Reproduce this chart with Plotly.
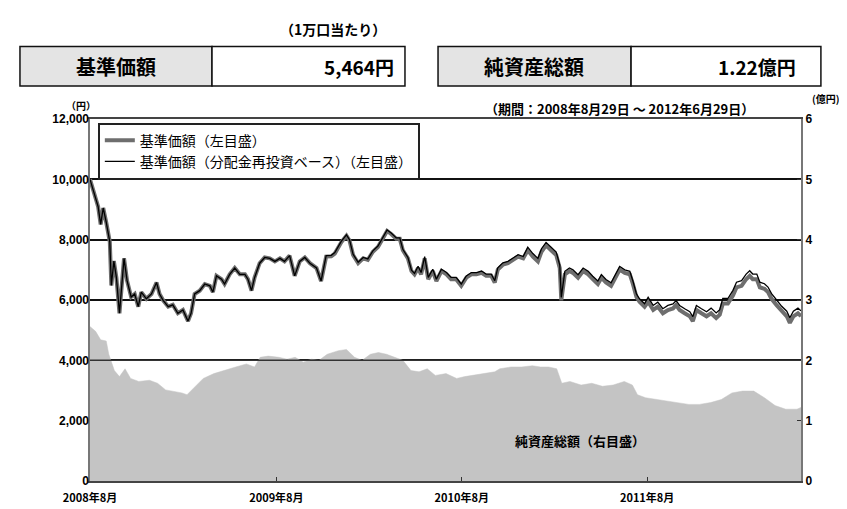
import plotly.graph_objects as go

# 基準価額 / 分配金再投資ベース (円)
nav_dates = [
    "2008-08-29", "2008-09-04", "2008-09-14", "2008-09-19", "2008-09-24", "2008-09-30", "2008-10-07",
    "2008-10-10", "2008-10-15", "2008-10-20", "2008-10-26", "2008-11-04", "2008-11-10", "2008-11-18",
    "2008-11-25", "2008-12-02", "2008-12-08", "2008-12-18", "2008-12-28",
    "2009-01-07", "2009-01-13", "2009-01-20", "2009-01-30", "2009-02-08", "2009-02-18", "2009-02-28",
    "2009-03-10", "2009-03-16", "2009-03-23", "2009-04-02", "2009-04-12", "2009-04-22", "2009-04-28",
    "2009-05-05", "2009-05-15", "2009-05-21", "2009-05-31", "2009-06-10", "2009-06-20", "2009-06-30",
    "2009-07-06", "2009-07-13", "2009-07-19", "2009-07-29", "2009-08-08", "2009-08-18", "2009-08-28",
    "2009-09-07", "2009-09-16", "2009-09-26", "2009-10-06", "2009-10-16", "2009-10-26", "2009-11-05",
    "2009-11-18", "2009-11-27", "2009-12-07", "2009-12-17", "2009-12-24",
    "2010-01-06", "2010-01-16", "2010-01-22", "2010-01-29", "2010-02-08", "2010-02-18", "2010-02-27",
    "2010-03-09", "2010-03-19", "2010-03-29", "2010-04-06", "2010-04-14", "2010-04-24", "2010-05-01",
    "2010-05-07", "2010-05-17", "2010-05-24", "2010-05-30", "2010-06-06", "2010-06-12", "2010-06-19",
    "2010-06-26", "2010-07-05", "2010-07-12", "2010-07-22", "2010-08-01", "2010-08-10", "2010-08-20",
    "2010-08-30", "2010-09-09", "2010-09-19", "2010-09-29", "2010-10-09", "2010-10-18", "2010-10-28",
    "2010-11-04", "2010-11-10", "2010-11-20", "2010-11-30", "2010-12-10", "2010-12-20", "2010-12-30",
    "2011-01-08", "2011-01-18", "2011-01-28", "2011-02-04", "2011-02-13", "2011-02-23", "2011-03-05",
    "2011-03-12", "2011-03-15", "2011-03-22", "2011-03-31", "2011-04-07", "2011-04-17", "2011-04-27",
    "2011-05-07", "2011-05-16", "2011-05-26", "2011-06-02", "2011-06-11", "2011-06-21", "2011-07-01",
    "2011-07-08", "2011-07-18", "2011-07-28", "2011-08-03", "2011-08-10", "2011-08-16", "2011-08-26",
    "2011-09-02", "2011-09-12", "2011-09-21", "2011-10-01", "2011-10-11", "2011-10-21", "2011-10-27",
    "2011-11-03", "2011-11-13", "2011-11-23", "2011-11-29", "2011-12-06", "2011-12-16", "2011-12-26",
    "2012-01-04", "2012-01-14", "2012-01-21", "2012-01-27", "2012-02-06", "2012-02-16", "2012-02-23",
    "2012-03-04", "2012-03-13", "2012-03-20", "2012-03-26", "2012-04-03", "2012-04-09", "2012-04-18",
    "2012-04-25", "2012-05-02", "2012-05-12", "2012-05-22", "2012-06-01", "2012-06-07", "2012-06-14",
    "2012-06-23", "2012-06-29",
]

nav = [
    10000, 9630, 9094, 8506, 9050, 8570, 7930, 6480, 7290, 6740, 5560, 7380, 6640, 6100, 6200, 5780,
    6260, 6040, 6200,
    6580, 6200, 5990, 5780, 5840, 5560, 5670, 5300, 5560, 6200, 6310, 6530, 6470, 6260, 6800, 6690,
    6530, 6850, 7060, 6850, 6850, 6690, 6310, 6740, 7220, 7410, 7380, 7280, 7380, 7280, 7470, 6800,
    7280, 7410, 7220, 7060, 6630, 7440, 7450, 7540,
    7920, 8130, 7970, 7490, 7220, 7380, 7330, 7600, 7760, 8080, 8290, 8190, 8030, 8030, 7650, 7380,
    6960, 6850, 7060, 6850, 7380, 6690, 6960, 6630, 6960, 6850, 6690, 6690, 6470, 6740, 6850, 6850,
    6900, 6800, 6800, 6580, 7010, 7170, 7220, 7330, 7440, 7380,
    7650, 7440, 7280, 7600, 7810, 7650, 7490, 7060, 5990, 6850, 6960, 6900, 6740, 6960, 6850, 6690,
    6530, 6740, 6580, 6470, 6800, 7010, 6900, 6850, 6530, 6100, 5940, 5780, 5940, 5670, 5780, 5560,
    5670, 5720, 5830, 5670, 5560, 5460, 5300, 5670, 5560, 5460,
    5560, 5400, 5510, 5880, 5880, 6150, 6420, 6470, 6690, 6800, 6690, 6690, 6420, 6370, 6260, 6040,
    5830, 5620, 5460, 5240, 5460, 5560, 5464,
]

nav_reinvest = [
    10000, 9630, 9094, 8506, 9050, 8570, 7930, 6480, 7290, 6740, 5560, 7380, 6640, 6100, 6200, 5780,
    6260, 6040, 6200,
    6580, 6200, 5990, 5780, 5840, 5560, 5670, 5300, 5560, 6200, 6310, 6530, 6470, 6260, 6800, 6690,
    6530, 6850, 7060, 6850, 6850, 6690, 6310, 6740, 7220, 7410, 7380, 7280, 7380, 7280, 7470, 6800,
    7280, 7410, 7220, 7060, 6630, 7470, 7480, 7570,
    7950, 8160, 8000, 7520, 7250, 7410, 7360, 7630, 7790, 8110, 8320, 8220, 8060, 8060, 7680, 7410,
    6990, 6880, 7120, 6910, 7440, 6750, 7020, 6690, 7020, 6910, 6750, 6750, 6530, 6800, 6910, 6910,
    6960, 6860, 6860, 6640, 7070, 7230, 7280, 7390, 7500, 7440,
    7750, 7540, 7380, 7700, 7910, 7750, 7590, 7160, 6090, 6950, 7060, 7000, 6840, 7060, 6950, 6790,
    6630, 6840, 6680, 6570, 6900, 7110, 7000, 6950, 6630, 6200, 6040, 5880, 6090, 5820, 5930, 5710,
    5820, 5870, 5980, 5820, 5710, 5610, 5450, 5820, 5710, 5610,
    5730, 5570, 5680, 6050, 6050, 6320, 6590, 6640, 6860, 6970, 6860, 6860, 6590, 6540, 6430, 6210,
    6000, 5790, 5630, 5410, 5630, 5730, 5640,
]

# 純資産総額 (億円)
asset_dates = [
    "2008-08-29", "2008-09-09", "2008-09-19", "2008-09-30", "2008-10-05", "2008-10-16", "2008-10-26",
    "2008-11-06", "2008-11-17", "2008-12-03", "2008-12-24", "2009-01-09", "2009-01-25", "2009-02-10",
    "2009-02-26", "2009-03-08", "2009-03-24", "2009-04-09", "2009-04-30", "2009-05-22", "2009-06-12",
    "2009-07-03", "2009-07-19", "2009-07-30", "2009-08-15", "2009-09-05", "2009-09-21", "2009-10-07",
    "2009-10-23", "2009-11-08", "2009-11-23", "2009-12-09", "2009-12-31", "2010-01-16", "2010-02-01",
    "2010-02-16", "2010-03-04", "2010-03-20", "2010-04-05", "2010-04-21", "2010-05-07", "2010-05-23",
    "2010-06-08", "2010-06-24", "2010-07-10", "2010-07-31", "2010-08-21", "2010-09-06", "2010-09-22",
    "2010-10-13", "2010-11-04", "2010-11-14", "2010-12-06", "2010-12-27", "2011-01-17", "2011-02-02",
    "2011-02-18", "2011-03-06", "2011-03-16", "2011-04-01", "2011-04-23", "2011-05-14", "2011-06-04",
    "2011-06-25", "2011-07-17", "2011-08-02", "2011-08-12", "2011-08-28", "2011-09-18", "2011-10-10",
    "2011-10-31", "2011-11-21", "2011-12-12", "2012-01-03", "2012-01-24", "2012-02-14", "2012-03-06",
    "2012-03-28", "2012-04-18", "2012-05-09", "2012-05-30", "2012-06-21", "2012-06-29",
]

net_assets = [
    2.56, 2.48, 2.34, 2.32, 2.10, 1.83, 1.73, 1.86, 1.70, 1.65, 1.67, 1.62, 1.51, 1.49, 1.46, 1.43,
    1.57, 1.70, 1.78, 1.83, 1.89, 1.94, 1.89, 2.05, 2.07, 2.05, 2.02, 2.05, 1.97, 2.02, 2.00, 2.10,
    2.16, 2.18, 2.05, 2.00, 2.10, 2.13, 2.10, 2.05, 2.00, 1.83, 1.81, 1.86, 1.75, 1.78, 1.70, 1.73,
    1.75, 1.78, 1.81, 1.86, 1.89, 1.89, 1.91, 1.89, 1.89, 1.86, 1.62, 1.65, 1.59, 1.62, 1.57, 1.59,
    1.65, 1.59, 1.43, 1.38, 1.35, 1.33, 1.30, 1.27, 1.27, 1.30, 1.35, 1.46, 1.49, 1.49, 1.38, 1.25,
    1.19, 1.19, 1.22,
]

x_tick_dates = ["2008-08-29", "2009-08-31", "2010-08-31", "2011-08-31"]
x_tick_labels = ["2008年8月", "2009年8月", "2010年8月", "2011年8月"]

JP = "Noto Sans CJK JP"
NUM = "Liberation Sans Narrow, Arial Narrow, Liberation Sans"

fig = go.Figure()

fig.add_trace(go.Scatter(
    x=asset_dates, y=net_assets, yaxis="y", mode="lines", fill="tozeroy",
    fillcolor="#c4c4c4", line=dict(color="#c4c4c4", width=0.5), showlegend=False,
    name="純資産総額",
))
fig.add_trace(go.Scatter(
    x=nav_dates, y=nav, yaxis="y2", mode="lines", name="基準価額（左目盛）",
    line=dict(color="#6e6e6e", width=4),
))
fig.add_trace(go.Scatter(
    x=nav_dates, y=nav_reinvest, yaxis="y2", mode="lines",
    name="基準価額（分配金再投資ベース）（左目盛）",
    line=dict(color="#000000", width=1.3),
))

fig.update_layout(
    width=847, height=509,
    margin=dict(l=82, r=54, t=111, b=24),
    paper_bgcolor="white", plot_bgcolor="white",
    font=dict(family=JP, size=11, color="#000"),
    xaxis=dict(
        type="date", range=["2008-08-29", "2012-06-29"],
        tickvals=x_tick_dates, ticktext=x_tick_labels,
        ticks="inside", ticklen=4, tickcolor="#333", ticklabelstandoff=6,
        tickfont=dict(family=JP, size=11, weight="bold"),
        showgrid=False, showline=True, linecolor="#444", linewidth=2, mirror=True,
    ),
    yaxis=dict(
        side="right", range=[0, 6], dtick=1,
        showgrid=True, gridcolor="#111", gridwidth=1.5, zeroline=False,
        ticks="inside", ticklen=4, tickcolor="#333",
        tickfont=dict(family=NUM, size=12, weight="bold"),
        showline=True, linecolor="#777", linewidth=2, mirror=True,
    ),
    yaxis2=dict(
        overlaying="y", side="left", range=[0, 12000], dtick=2000, tickformat=",",
        showgrid=False, zeroline=False, showline=False,
        tickfont=dict(family=NUM, size=12, weight="bold"),
    ),
    legend=dict(
        x=0.011, y=0.99, xanchor="left", yanchor="top",
        bgcolor="white", bordercolor="#222", borderwidth=2,
        font=dict(family=JP, size=14), tracegroupgap=0, itemwidth=30,
    ),
)

# header boxes
box_style = dict(type="rect", xref="paper", yref="paper", y0=1.091, y1=1.2,
                 line=dict(color="#111", width=1.5))
fig.add_shape(x0=-0.0985, x1=0.1716, fillcolor="#e4e4e4", **box_style)
fig.add_shape(x0=0.1716, x1=0.443, fillcolor="white", **box_style)
fig.add_shape(x0=0.4895, x1=0.761, fillcolor="#e4e4e4", **box_style)
fig.add_shape(x0=0.761, x1=1.028, fillcolor="white", **box_style)

# 4,000 grid line drawn over the area
fig.add_shape(type="line", xref="paper", yref="y", x0=0, x1=1, y0=2, y1=2,
              line=dict(color="#333", width=1.5), layer="above")

header = dict(xref="paper", yref="paper", showarrow=False, yanchor="middle")
fig.add_annotation(x=0.0365, y=1.145, text="<b>基準価額</b>", xanchor="center",
                   font=dict(family=JP, size=20), **header)
fig.add_annotation(x=0.431, y=1.145, text="<b>5,464円</b>", xanchor="right",
                   font=dict(family=JP, size=19), **header)
fig.add_annotation(x=0.625, y=1.145, text="<b>純資産総額</b>", xanchor="center",
                   font=dict(family=JP, size=20), **header)
fig.add_annotation(x=0.996, y=1.145, text="<b>1.22億円</b>", xanchor="right",
                   font=dict(family=JP, size=19), **header)
fig.add_annotation(x=0.342, y=1.249, text="<b>（1万口当たり）</b>", xanchor="center",
                   font=dict(family=JP, size=14), **header)
fig.add_annotation(x=-0.012, y=1.038, text="<b>（円）</b>", xanchor="center",
                   font=dict(family=JP, size=10), **header)
fig.add_annotation(x=1.058, y=1.058, text="<b>(億円)</b>", xanchor="right",
                   font=dict(family=JP, size=10), **header)
fig.add_annotation(x=0.745, y=1.03, text="<b>（期間：2008年8月29日 ～ 2012年6月29日）</b>",
                   xanchor="center", font=dict(family=JP, size=13), **header)
fig.add_annotation(x=0.689, y=0.112, text="<b>純資産総額（右目盛）</b>", xanchor="center",
                   font=dict(family=JP, size=13), **header)

fig.write_html("out.html")
